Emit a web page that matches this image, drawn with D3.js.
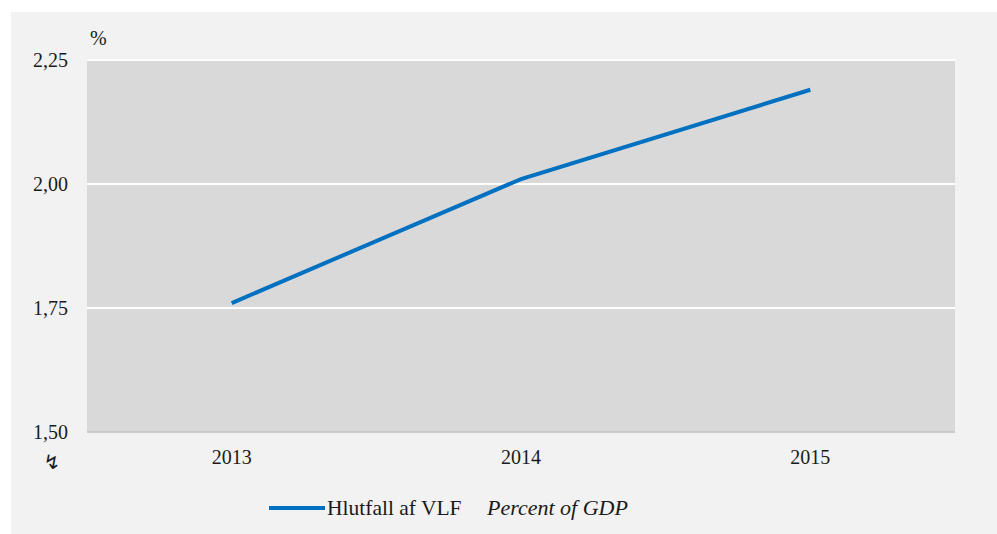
<!DOCTYPE html>
<html>
<head>
<meta charset="utf-8">
<script src="https://cdn.jsdelivr.net/npm/d3@7"></script>
<style>
  body { margin: 0; background: #ffffff; }
  text { font-family: "Liberation Serif", "Times New Roman", serif; fill: #1a1a1a; }
</style>
</head>
<body>
<div id="chart"></div>
<script>
// chart data
var years = ["2013", "2014", "2015"];
var ratio = [1.76, 2.01, 2.19];
var yTicks = [1.50, 1.75, 2.00, 2.25];
var seriesName = "Hlutfall af VLF";
var seriesNameEn = "Percent of GDP";

var svgWidth = 997;
var svgHeight = 534;

var chartMargin = { top: 60, right: 42, bottom: 102, left: 87 };
var chartWidth = svgWidth - chartMargin.left - chartMargin.right;
var chartHeight = svgHeight - chartMargin.top - chartMargin.bottom;

var svg = d3.select("#chart")
    .append("svg")
    .attr("width", svgWidth)
    .attr("height", svgHeight);

// outer frame
svg.append("rect")
    .attr("x", 11).attr("y", 12)
    .attr("width", svgWidth - 11).attr("height", svgHeight - 12)
    .attr("fill", "#f2f2f2");

var chartGroup = svg.append("g")
    .attr("transform", `translate(${chartMargin.left}, ${chartMargin.top})`);

var x = d3.scaleBand().domain(years).range([0, chartWidth]);
var y = d3.scaleLinear().domain([1.5, 2.25]).range([chartHeight, 0]);

// plot background
chartGroup.append("rect")
    .attr("width", chartWidth)
    .attr("height", chartHeight)
    .attr("fill", "#d9d9d9");

// gridlines
chartGroup.selectAll(".grid")
    .data(yTicks.slice(1))
    .enter().append("line")
    .attr("x1", 0).attr("x2", chartWidth)
    .attr("y1", d => y(d)).attr("y2", d => y(d))
    .attr("stroke", "#ffffff")
    .attr("stroke-width", 2);

// x axis baseline
chartGroup.append("line")
    .attr("x1", 0).attr("x2", chartWidth)
    .attr("y1", chartHeight).attr("y2", chartHeight)
    .attr("stroke", "#bfbfbf")
    .attr("stroke-width", 1.5);

var fmt = d => d.toFixed(2).replace(".", ",");

// y axis labels
chartGroup.selectAll(".ylab")
    .data(yTicks)
    .enter().append("text")
    .attr("x", -19)
    .attr("y", d => y(d))
    .attr("dy", "0.35em")
    .attr("text-anchor", "end")
    .style("font-size", "20px")
    .text(fmt);

// x axis labels
chartGroup.selectAll(".xlab")
    .data(years)
    .enter().append("text")
    .attr("x", d => x(d) + x.bandwidth() / 2)
    .attr("y", chartHeight + 32)
    .attr("text-anchor", "middle")
    .style("font-size", "20px")
    .text(d => d);

// unit label
svg.append("text")
    .attr("x", 90).attr("y", 45)
    .style("font-size", "20px")
    .text("%");

// broken axis mark
svg.append("text")
    .attr("x", 52).attr("y", 469)
    .attr("text-anchor", "middle")
    .style("font-family", "DejaVu Sans")
    .style("font-size", "20px")
    .text("\u21AF");

// line
var valueline = d3.line()
    .x((d, i) => x(years[i]) + x.bandwidth() / 2)
    .y(d => y(d));

chartGroup.append("path")
    .datum(ratio)
    .attr("d", valueline)
    .attr("fill", "none")
    .attr("stroke", "#0070c0")
    .attr("stroke-width", 4);

// legend
var legend = svg.append("g").attr("transform", "translate(269, 508)");
legend.append("line")
    .attr("x1", 0).attr("x2", 56)
    .attr("stroke", "#0070c0")
    .attr("stroke-width", 4);
legend.append("text")
    .attr("x", 58).attr("y", 7)
    .style("font-size", "21.5px")
    .text(seriesName);
legend.append("text")
    .attr("x", 218).attr("y", 7)
    .style("font-size", "22px")
    .style("font-style", "italic")
    .text(seriesNameEn);
</script>
</body>
</html>
